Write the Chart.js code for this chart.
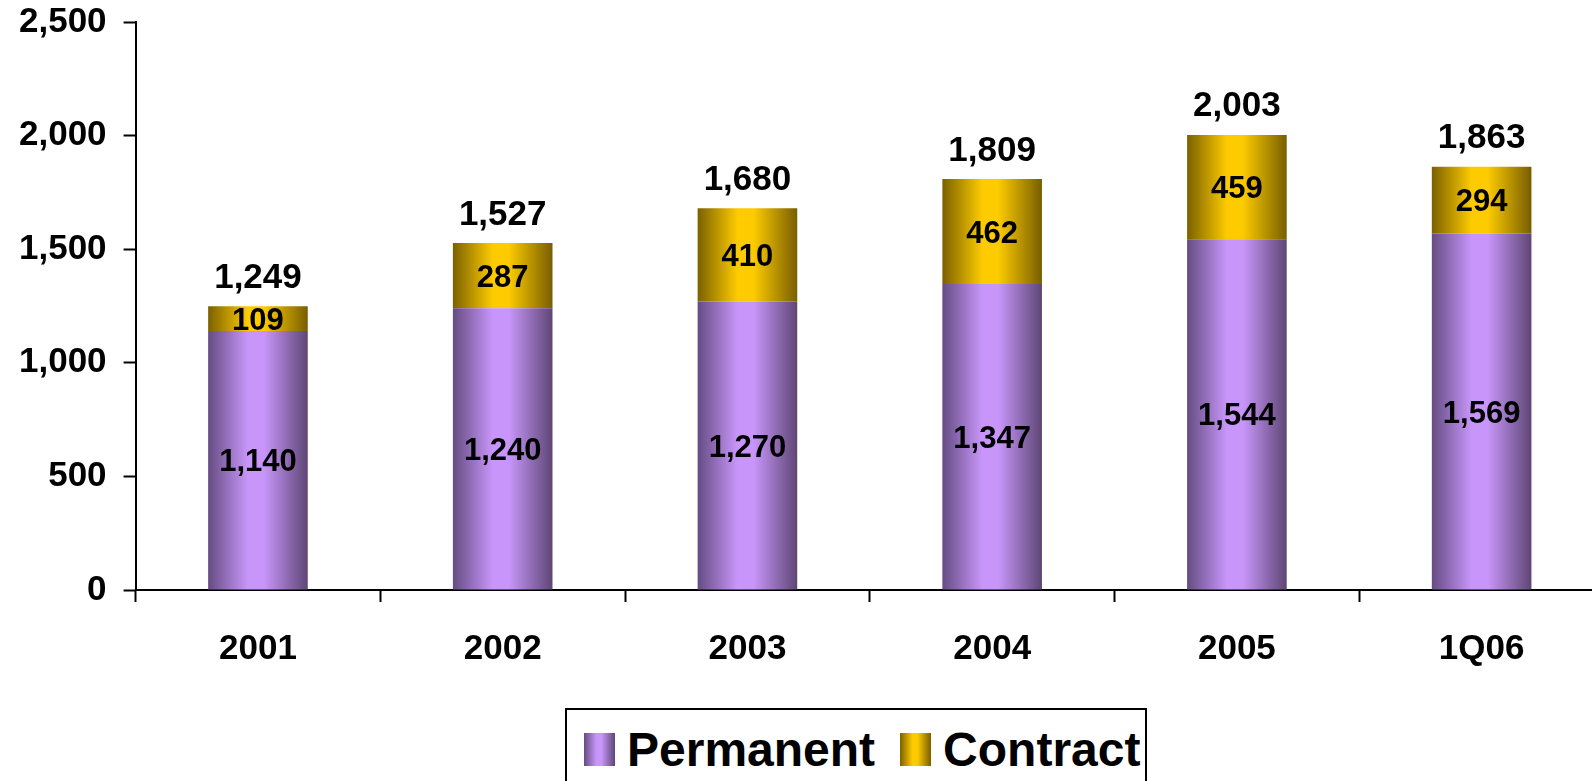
<!DOCTYPE html>
<html>
<head>
<meta charset="utf-8">
<script src="https://cdn.jsdelivr.net/npm/chart.js@4"></script>
<style>
  html, body { margin: 0; padding: 0; background: #fff; overflow: hidden; }
  #wrap { position: relative; width: 1592px; height: 781px; overflow: hidden; }
  #chart { position: absolute; left: 0; top: -16px; }
  #legend {
    position: absolute; left: 565px; top: 708px; width: 582px; height: 90px;
    border: 2px solid #000; box-sizing: border-box; background: #fff;
    font: bold 48px "Liberation Sans", Arial, sans-serif; color: #000;
  }
  #legend .row { position: absolute; left: 17px; top: 15px; height: 48px; display: flex; align-items: center; white-space: nowrap; }
  #legend .sw { width: 31px; height: 33px; margin-right: 12px; }
  #legend .item { display: flex; align-items: center; margin-right: 25px; }
</style>
</head>
<body>
<div id="wrap">
  <canvas id="chart" width="1630" height="797"></canvas>
  <div id="legend"><div class="row"></div></div>
</div>
<script>
// カテゴリと系列データ
const categories = ['2001', '2002', '2003', '2004', '2005', '1Q06'];
const seriesNames = ['Permanent', 'Contract'];
const permanent = [1140, 1240, 1270, 1347, 1544, 1569];
const contract = [109, 287, 410, 462, 459, 294];
const totals = [1249, 1527, 1680, 1809, 2003, 1863];
const yTicks = [0, 500, 1000, 1500, 2000, 2500];

const BAR_PCT = 0.407;
const FONT = '"Liberation Sans", Arial, sans-serif';
const purpleStops = ['#654c82', '#c896fa', '#5e4675'];
const goldStops = ['#7b6100', '#fdcb00', '#785e00'];

// 棒ごとに横方向のグラデーションを作る
function barGradient(ctx, stops) {
  const chart = ctx.chart;
  const xs = chart.scales.x;
  if (!xs || ctx.dataIndex === undefined) return stops[1];
  const cx = xs.getPixelForValue(ctx.dataIndex);
  const w = xs.width / categories.length * BAR_PCT;
  if (!isFinite(cx) || !isFinite(w) || w <= 0) return stops[1];
  const g = chart.ctx.createLinearGradient(cx - w / 2, 0, cx + w / 2, 0);
  g.addColorStop(0, stops[0]);
  g.addColorStop(0.4, stops[1]);
  g.addColorStop(0.56, stops[1]);
  g.addColorStop(1, stops[2]);
  return g;
}

const fmt = v => v.toLocaleString('en-US');

// 棒の中の値と合計を描く
const valueLabels = {
  id: 'valueLabels',
  afterDatasetsDraw(chart) {
    const c = chart.ctx;
    c.save();
    c.fillStyle = '#000';
    c.textAlign = 'center';
    c.textBaseline = 'alphabetic';
    c.font = 'bold 31px ' + FONT;
    chart.data.datasets.forEach((ds, di) => {
      chart.getDatasetMeta(di).data.forEach((bar, i) => {
        const mid = (bar.y + bar.base) / 2;
        c.fillText(fmt(ds.data[i]), bar.x, mid + 31 * 0.358);
      });
    });
    c.font = 'bold 35px ' + FONT;
    chart.getDatasetMeta(1).data.forEach((bar, i) => {
      c.fillText(fmt(totals[i]), bar.x, bar.y - 31 + 35 * 0.358);
    });
    c.restore();
  }
};

const myChart = new Chart(document.getElementById('chart'), {
  type: 'bar',
  data: {
    labels: categories,
    datasets: [{
      label: seriesNames[0],
      data: permanent,
      backgroundColor: ctx => barGradient(ctx, purpleStops),
    }, {
      label: seriesNames[1],
      data: contract,
      backgroundColor: ctx => barGradient(ctx, goldStops),
    }],
  },
  options: {
    responsive: false,
    animation: false,
    events: [],
    categoryPercentage: 1,
    barPercentage: BAR_PCT,
    layout: { padding: { left: 2, right: 26, top: 4, bottom: 85 } },
    plugins: {
      legend: { display: false },
      tooltip: { enabled: false },
    },
    scales: {
      x: {
        stacked: true,
        border: { display: true, color: '#000', width: 2 },
        grid: { offset: true, drawOnChartArea: false, drawTicks: true, tickLength: 12, tickWidth: 2, tickColor: '#000', color: '#000' },
        ticks: { color: '#000', padding: 26, font: { family: FONT, size: 35, weight: 'bold' }, maxRotation: 0 },
      },
      y: {
        stacked: true,
        min: 0,
        max: 2500,
        afterBuildTicks: axis => { axis.ticks = yTicks.map(v => ({ value: v })); },
        border: { display: true, color: '#000', width: 2 },
        grid: { drawOnChartArea: false, drawTicks: true, tickLength: 12, tickWidth: 2, tickColor: '#000', color: '#000' },
        ticks: { color: '#000', padding: 17, font: { family: FONT, size: 35, weight: 'bold' }, callback: v => fmt(v) },
      },
    },
  },
  plugins: [valueLabels],
});

// 凡例（系列名から作る）
const row = document.querySelector('#legend .row');
[purpleStops, goldStops].forEach((stops, i) => {
  const item = document.createElement('div');
  item.className = 'item';
  if (i === 1) item.style.marginRight = '0';
  const sw = document.createElement('div');
  sw.className = 'sw';
  sw.style.background = `linear-gradient(to right, ${stops[0]} 0%, ${stops[1]} 40%, ${stops[1]} 56%, ${stops[2]} 100%)`;
  const txt = document.createElement('span');
  txt.textContent = seriesNames[i];
  item.appendChild(sw);
  item.appendChild(txt);
  row.appendChild(item);
});
</script>
</body>
</html>
